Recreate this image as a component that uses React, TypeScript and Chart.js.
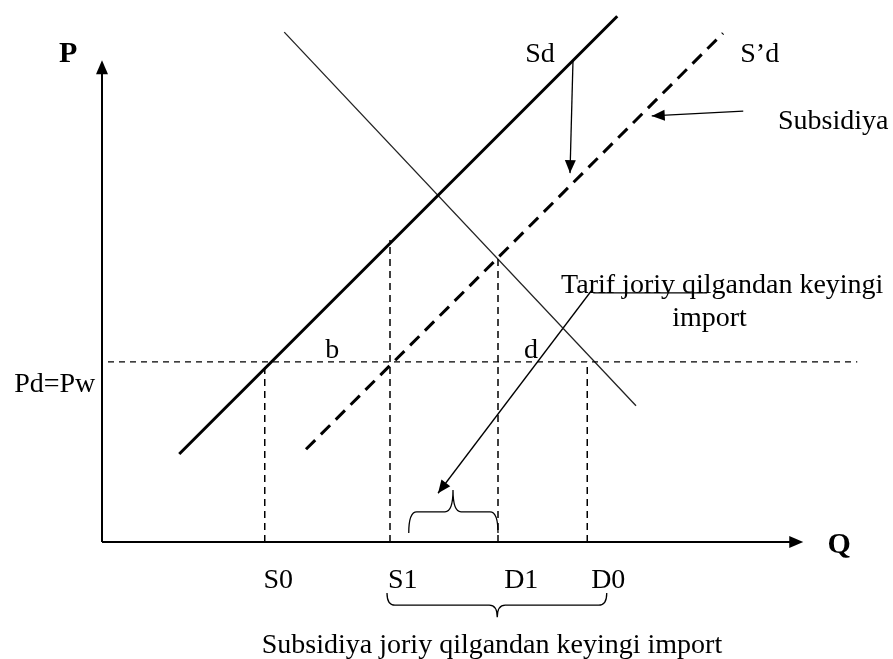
import { useEffect, useRef } from "react";
import { Chart, registerables } from "chart.js";

Chart.register(...registerables);

const X_MAX = 102;
const Y_MAX = 100;

// curves (data units)
const supplyLine = [{ x: 10.3, y: 16.6 }, { x: 68.7, y: 99.2 }];
const subsidySupplyLine = [{ x: 27.2, y: 17.5 }, { x: 82.8, y: 96.0 }];
const demandLine = [{ x: 24.3, y: 96.2 }, { x: 71.2, y: 25.7 }];
const worldPrice = 34.0;
const worldPriceRange = [0.8, 100.7];

// quantities on Q axis
const quantityNames = ["S0", "S1", "D1", "D0"];
const quantityValues = [21.7, 38.4, 52.8, 64.7];
const quantityTops = [34.0, 57.0, 53.8, 34.0];
const quantityLabelX = [23.5, 40.1, 55.9, 67.5];
const quantityLabelY = -8.7;

// axes
const axisXTip = 93.5;
const axisYTip = 90.9;

// annotation arrows
const arrowFrom = [{ x: 62.8, y: 90.9 }, { x: 85.5, y: 81.3 }, { x: 65.3, y: 47.5 }];
const arrowTo = [{ x: 62.4, y: 69.6 }, { x: 73.3, y: 80.4 }, { x: 44.8, y: 9.2 }];
const leaderLine = [{ x: 65.5, y: 47.0 }, { x: 80.7, y: 47.0 }];

// braces: [x1, x2, tipX, yEnd, yBar, yTip]
const smallBrace = [40.9, 52.8, 46.8, 1.7, 5.7, 9.8];
const bottomBrace = [38.0, 67.3, 52.7, -9.6, -11.9, -14.2];

// text labels
const labelTexts = ["P", "Q", "Sd", "S\u2019d", "Subsidiya", "Tarif joriy qilgandan keyingi", "import", "b", "d", "Pd=Pw", "Subsidiya joriy qilgandan keyingi import"];
const labelX = [-4.5, 98.3, 58.4, 87.7, 97.5, 82.7, 81.0, 30.7, 57.2, -6.3, 52.0];
const labelY = [90.6, -2.1, 90.6, 90.6, 77.9, 47.0, 40.8, 34.7, 34.7, 28.3, -20.9];
const labelBold = [true, true, false, false, false, false, false, false, false, false, false];

const FONT = "'Liberation Serif', 'Times New Roman', serif";

function line(data: { x: number; y: number }[], width: number, dash: number[] = [], color = "#000") {
  return {
    data,
    showLine: true,
    borderColor: color,
    backgroundColor: color,
    borderWidth: width,
    borderDash: dash,
    pointRadius: 0,
    clip: false as any,
  };
}

export default function App() {
  const ref = useRef<HTMLCanvasElement | null>(null);

  useEffect(() => {
    if (!ref.current) return;

    const overlay = {
      id: "overlay",
      afterDatasetsDraw(chart: any) {
        const ctx = chart.ctx as CanvasRenderingContext2D;
        const xs = chart.scales.x;
        const ys = chart.scales.y;
        const px = (v: number) => xs.getPixelForValue(v);
        const py = (v: number) => ys.getPixelForValue(v);

        const head = (fx: number, fy: number, tx: number, ty: number, len: number, half: number) => {
          const a = Math.atan2(ty - fy, tx - fx);
          ctx.beginPath();
          ctx.moveTo(tx, ty);
          ctx.lineTo(tx - len * Math.cos(a) + half * Math.sin(a), ty - len * Math.sin(a) - half * Math.cos(a));
          ctx.lineTo(tx - len * Math.cos(a) - half * Math.sin(a), ty - len * Math.sin(a) + half * Math.cos(a));
          ctx.closePath();
          ctx.fillStyle = "#000";
          ctx.fill();
        };

        ctx.save();
        head(px(0), py(0), px(0), py(axisYTip), 14, 6);
        head(px(0), py(0), px(axisXTip), py(0), 14, 6);
        for (let i = 0; i < arrowFrom.length; i++) {
          head(px(arrowFrom[i].x), py(arrowFrom[i].y), px(arrowTo[i].x), py(arrowTo[i].y), 13, 5.5);
        }

        const brace = (b: number[]) => {
          const [x1, x2, tx, ye, yb, yt] = b;
          const X1 = px(x1), X2 = px(x2), TX = px(tx), YE = py(ye), YB = py(yb), YT = py(yt);
          const r = 8;
          ctx.beginPath();
          ctx.moveTo(X1, YE);
          ctx.quadraticCurveTo(X1, YB, X1 + r, YB);
          ctx.lineTo(TX - r, YB);
          ctx.quadraticCurveTo(TX, YB, TX, YT);
          ctx.quadraticCurveTo(TX, YB, TX + r, YB);
          ctx.lineTo(X2 - r, YB);
          ctx.quadraticCurveTo(X2, YB, X2, YE);
          ctx.strokeStyle = "#000";
          ctx.lineWidth = 1.3;
          ctx.setLineDash([]);
          ctx.stroke();
        };
        brace(smallBrace);
        brace(bottomBrace);

        ctx.fillStyle = "#000";
        ctx.textAlign = "center";
        ctx.textBaseline = "alphabetic";
        for (let i = 0; i < labelTexts.length; i++) {
          ctx.font = (labelBold[i] ? "bold 30px " : "28px ") + FONT;
          ctx.fillText(labelTexts[i], px(labelX[i]), py(labelY[i]));
        }
        ctx.font = "28px " + FONT;
        for (let i = 0; i < quantityNames.length; i++) {
          ctx.fillText(quantityNames[i], px(quantityLabelX[i]), py(quantityLabelY));
        }
        ctx.restore();
      },
    };

    const datasets: any[] = [
      line([{ x: 0, y: 0 }, { x: 0, y: axisYTip - 1 }], 2),
      line([{ x: 0, y: 0 }, { x: axisXTip - 1, y: 0 }], 2),
      line([{ x: worldPriceRange[0], y: worldPrice }, { x: worldPriceRange[1], y: worldPrice }], 1.3, [6, 5]),
      ...quantityValues.map((q, i) => line([{ x: q, y: 0 }, { x: q, y: quantityTops[i] }], 1.5, [7, 5])),
      line(supplyLine, 3),
      line(subsidySupplyLine, 3, [13, 8]),
      line(demandLine, 1.3, [], "#222"),
      ...arrowFrom.map((f, i) => line([f, arrowTo[i]], 1.3)),
      line(leaderLine, 1.3),
    ];

    const chart = new Chart(ref.current, {
      type: "scatter",
      data: { datasets },
      plugins: [overlay],
      options: {
        animation: false,
        responsive: false,
        devicePixelRatio: 1,
        layout: { padding: { left: 102, right: 26, top: 12, bottom: 117 } },
        plugins: { legend: { display: false }, tooltip: { enabled: false } },
        scales: {
          x: { type: "linear", min: 0, max: X_MAX, display: false },
          y: { type: "linear", min: 0, max: Y_MAX, display: false },
        },
      },
    } as any);

    return () => chart.destroy();
  }, []);

  return (
    <div style={{ position: "absolute", left: 0, top: 0, width: 893, height: 659, background: "#fff" }}>
      <canvas ref={ref} width={893} height={659} style={{ width: 893, height: 659, display: "block" }} />
    </div>
  );
}
